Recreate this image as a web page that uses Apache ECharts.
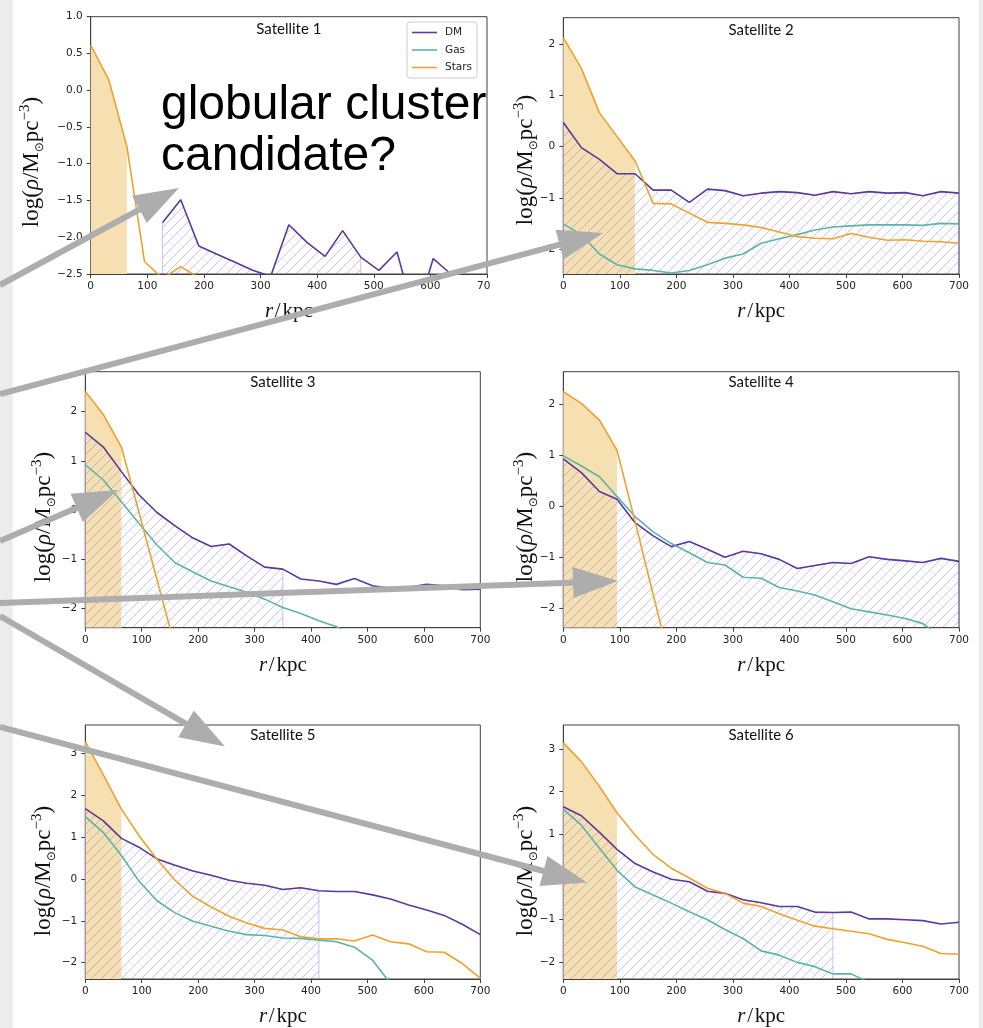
<!DOCTYPE html>
<html>
<head>
<meta charset="utf-8">
<script src="https://cdn.jsdelivr.net/npm/echarts@6/dist/echarts.min.js"></script>
<style>
  html, body { margin: 0; padding: 0; background: #ffffff; }
  #chart { width: 983px; height: 1028px; }
</style>
</head>
<body>
<div id="chart"></div>
<script>
// Radial bin centres (kpc)
const radius = [0, 32, 64, 95, 127, 159, 191, 223, 255, 286, 318, 350, 382, 414, 445, 477, 509, 541, 573, 605, 636, 668, 700];

// log density profiles, log(rho / Msun pc^-3); null = empty bin
const sat1DM    = [null, null, null, null, -1.80, -1.49, -2.12, -2.23, -2.34, -2.45, -2.53, -1.83, -2.07, -2.26, -1.91, -2.27, -2.45, -2.20, -3.10, -2.29, -2.50, -2.80, null];
const sat1Gas   = [null, null, null, null, null, null, null, null, null, null, null, null, null, null, null, null, null, null, null, null, null, null, null];
const sat1Stars = [0.615, 0.14, -0.77, -2.33, -2.56, -2.40, -2.55, null, null, null, null, null, null, null, null, null, null, null, null, null, null, null, null];

const sat2DM    = [0.47, -0.02, -0.25, -0.53, -0.53, -0.85, -0.85, -1.09, -0.83, -0.86, -0.96, -0.91, -0.88, -0.90, -0.95, -0.88, -0.92, -0.88, -0.91, -0.90, -0.96, -0.88, -0.91];
const sat2Gas   = [-1.51, -1.72, -2.10, -2.31, -2.39, -2.42, -2.47, -2.42, -2.31, -2.18, -2.10, -1.89, -1.80, -1.72, -1.63, -1.57, -1.55, -1.53, -1.53, -1.53, -1.54, -1.50, -1.51];
const sat2Stars = [2.13, 1.53, 0.66, 0.20, -0.28, -1.11, -1.12, -1.30, -1.48, -1.50, -1.53, -1.58, -1.67, -1.76, -1.79, -1.80, -1.70, -1.77, -1.83, -1.82, -1.85, -1.86, -1.89];

const sat3DM    = [1.58, 1.28, 0.78, 0.31, -0.05, -0.32, -0.57, -0.74, -0.69, -0.93, -1.16, -1.20, -1.40, -1.44, -1.51, -1.39, -1.54, -1.59, -1.57, -1.51, -1.54, -1.62, -1.61];
const sat3Gas   = [0.92, 0.61, 0.17, -0.27, -0.71, -1.07, -1.26, -1.44, -1.56, -1.67, -1.81, -1.98, -2.10, -2.25, -2.37, -2.55, null, null, null, null, null, null, null];
const sat3Stars = [2.41, 1.94, 1.28, -0.04, -1.41, -2.78, null, null, null, null, null, null, null, null, null, null, null, null, null, null, null, null, null];

const sat4DM    = [0.93, 0.66, 0.29, 0.14, -0.32, -0.58, -0.79, -0.69, -0.84, -1.00, -0.88, -0.93, -1.04, -1.22, -1.16, -1.10, -1.12, -0.99, -1.04, -1.07, -1.10, -1.02, -1.08];
const sat4Gas   = [0.99, 0.79, 0.58, 0.19, -0.20, -0.50, -0.73, -0.91, -1.10, -1.15, -1.39, -1.41, -1.59, -1.66, -1.74, -1.87, -2.01, -2.07, -2.13, -2.20, -2.30, -2.55, null];
const sat4Stars = [2.25, 2.02, 1.69, 1.10, -0.30, -1.73, -3.14, null, null, null, null, null, null, null, null, null, null, null, null, null, null, null, null];

const sat5DM    = [1.68, 1.39, 0.97, 0.76, 0.48, 0.33, 0.19, 0.09, -0.03, -0.10, -0.15, -0.25, -0.21, -0.28, -0.30, -0.30, -0.38, -0.48, -0.62, -0.74, -0.87, -1.08, -1.33];
const sat5Gas   = [1.49, 1.11, 0.56, -0.05, -0.52, -0.81, -1.01, -1.13, -1.25, -1.33, -1.35, -1.41, -1.42, -1.46, -1.50, -1.63, -1.94, -2.50, null, null, null, null, null];
const sat5Stars = [3.28, 2.49, 1.67, 1.04, 0.47, -0.03, -0.42, -0.67, -0.89, -1.05, -1.18, -1.22, -1.38, -1.43, -1.43, -1.48, -1.34, -1.50, -1.55, -1.74, -1.75, -2.02, -2.37];

const sat6DM    = [1.64, 1.43, 1.04, 0.64, 0.31, 0.11, -0.06, -0.12, -0.34, -0.39, -0.54, -0.61, -0.70, -0.70, -0.83, -0.84, -0.83, -0.99, -0.99, -1.01, -1.03, -1.11, -1.07];
const sat6Gas   = [1.58, 1.21, 0.67, 0.15, -0.24, -0.43, -0.62, -0.82, -1.01, -1.24, -1.45, -1.74, -1.84, -2.01, -2.11, -2.28, -2.28, -2.48, null, null, null, null, null];
const sat6Stars = [3.14, 2.70, 2.12, 1.50, 0.98, 0.52, 0.20, -0.03, -0.27, -0.39, -0.62, -0.70, -0.87, -1.02, -1.16, -1.22, -1.28, -1.34, -1.47, -1.55, -1.63, -1.80, -1.82];

const satelliteNames = ['Satellite 1', 'Satellite 2', 'Satellite 3', 'Satellite 4', 'Satellite 5', 'Satellite 6'];
// stellar core radius (shaded) and DM-dominated range (hatched), kpc
const starCoreRadius = [64, 127, 64, 95, 64, 95];
const dmHaloStart = [127, 0, 0, 0, 0, 0];
const dmHaloEnd   = [477, 700, 350, 700, 414, 477];

// axis limits and tick labels
const xTicks = [0, 100, 200, 300, 400, 500, 600, 700];
const yTicksSat1 = [-2.5, -2.0, -1.5, -1.0, -0.5, 0.0, 0.5, 1.0];
const yTicksMid = [-2, -1, 0, 1, 2];
const yTicksDeep = [-2, -1, 0, 1, 2, 3];
const yMin = [-2.5, -2.49, -2.39, -2.38, -2.39, -2.40];
const yMax = [1.0, 2.52, 2.81, 2.64, 3.68, 3.56];

const profiles = [
  [sat1DM, sat1Gas, sat1Stars],
  [sat2DM, sat2Gas, sat2Stars],
  [sat3DM, sat3Gas, sat3Stars],
  [sat4DM, sat4Gas, sat4Stars],
  [sat5DM, sat5Gas, sat5Stars],
  [sat6DM, sat6Gas, sat6Stars]
];
const yTickSets = [yTicksSat1, yTicksMid, yTicksMid, yTicksMid, yTicksDeep, yTicksDeep];
const yDecimals = [1, 0, 0, 0, 0, 0];

// ---- layout ----
const boxes = [
  { left: 90.7,  top: 16.7,  width: 396.3, height: 257.3 },
  { left: 563.3, top: 17.7,  width: 395.7, height: 256.3 },
  { left: 85.3,  top: 371.7, width: 395.0, height: 256.0 },
  { left: 563.3, top: 371.7, width: 395.7, height: 256.0 },
  { left: 85.3,  top: 725.0, width: 395.0, height: 256.7 },
  { left: 563.3, top: 725.0, width: 395.7, height: 256.7 }
];
const titleCentreY = [29, 29.3, 381.7, 381.7, 735, 735];
const yLabelPos = [[31.5, 162], [526, 160], [44, 517], [526, 517], [44, 871], [526, 871]];

const COLORS = { dm: '#5b3a9e', gas: '#5ab4aa', stars: '#f0a12a', core: '#f6dfb1', hatch: 'rgba(120,100,225,0.40)' };
const AXIS_COLOR = '#404040';
const TICK_FONT = 'DejaVu Sans';
const SERIF = 'Liberation Serif';

function hatchTile() {
  const size = 10;
  const c = document.createElement('canvas');
  c.width = size; c.height = size;
  const g = c.getContext('2d');
  g.strokeStyle = COLORS.hatch;
  g.lineWidth = 1;
  g.beginPath();
  g.moveTo(-1, size + 1); g.lineTo(size + 1, -1);
  g.moveTo(-size / 2 - 1, size / 2 + 1); g.lineTo(size / 2 + 1, -size / 2 - 1);
  g.moveTo(size / 2 - 1, size * 1.5 + 1); g.lineTo(size * 1.5 + 1, size / 2 - 1);
  g.stroke();
  return c;
}
const hatchPattern = { image: hatchTile(), repeat: 'repeat' };

function pairs(vals, from, to) {
  const out = [];
  radius.forEach((r, i) => {
    if (vals[i] !== null && r >= from && r <= to) out.push([r, vals[i]]);
  });
  return out;
}

function fmtTick(v, d) {
  const s = Math.abs(v).toFixed(d);
  return (v < 0 ? '\u2212' : '') + s;
}

const grids = [], xAxes = [], yAxes = [], series = [], titles = [], graphics = [];

boxes.forEach((b, k) => {
  const [dm, gas, stars] = profiles[k];
  grids.push({ left: b.left, top: b.top, width: b.width, height: b.height, show: true,
    borderColor: AXIS_COLOR, borderWidth: 1, backgroundColor: 'transparent', containLabel: false });

  xAxes.push({
    type: 'value', gridIndex: k, min: 0, max: 700, interval: 100,
    axisLine: { show: true, onZero: false, lineStyle: { color: AXIS_COLOR, width: 1 } },
    axisTick: { show: true, length: 4, lineStyle: { color: AXIS_COLOR } },
    axisLabel: { fontFamily: TICK_FONT, fontSize: 10.5, color: '#222', margin: 7, showMaxLabel: true, showMinLabel: true },
    splitLine: { show: false },
    name: '{i|r}{n|\u200a/\u200akpc}', nameLocation: 'middle', nameGap: 27,
    nameTextStyle: { rich: {
      i: { fontFamily: SERIF, fontStyle: 'italic', fontSize: 21, color: '#111' },
      n: { fontFamily: SERIF, fontSize: 21, color: '#111' }
    } }
  });

  const ticks = yTickSets[k];
  const dec = yDecimals[k];
  yAxes.push({
    type: 'value', gridIndex: k, min: yMin[k], max: yMax[k],
    axisLine: { show: true, onZero: false, lineStyle: { color: AXIS_COLOR, width: 1 } },
    axisTick: { show: true, length: 4, lineStyle: { color: AXIS_COLOR }, customValues: ticks },
    axisLabel: { fontFamily: TICK_FONT, fontSize: 10.5, color: '#222', margin: 8, customValues: ticks,
      formatter: v => fmtTick(v, dec) },
    splitLine: { show: false }
  });

  const floor = yMin[k];
  // shaded stellar core
  const core = pairs(stars, 0, starCoreRadius[k]);
  core.push([starCoreRadius[k], floor]);
  series.push({
    name: 'core', type: 'line', xAxisIndex: k, yAxisIndex: k, data: core,
    symbol: 'none', silent: true, lineStyle: { width: 0, opacity: 0 },
    areaStyle: { color: COLORS.core, opacity: 1, origin: 'start' }, z: 1
  });
  // hatched DM-dominated region
  const halo = [[dmHaloStart[k], floor]].concat(pairs(dm, dmHaloStart[k], dmHaloEnd[k]));
  halo.push([dmHaloEnd[k], floor]);
  series.push({
    name: 'halo', type: 'line', xAxisIndex: k, yAxisIndex: k, data: halo,
    symbol: 'none', silent: true, lineStyle: { width: 1, color: COLORS.hatch },
    areaStyle: { color: hatchPattern, opacity: 1, origin: 'start' }, z: 2
  });
  // profiles
  [['DM', dm, COLORS.dm], ['Gas', gas, COLORS.gas], ['Stars', stars, COLORS.stars]].forEach(([nm, vals, col]) => {
    series.push({
      name: nm, type: 'line', xAxisIndex: k, yAxisIndex: k, data: pairs(vals, 0, 700),
      symbol: 'none', showSymbol: false, lineStyle: { width: 1.6, color: col }, itemStyle: { color: col }, z: 3
    });
  });

  titles.push({
    text: satelliteNames[k], left: b.left + b.width / 2, top: titleCentreY[k] - 7, textAlign: 'center', padding: 0,
    textStyle: { fontFamily: 'Lato', fontSize: 15, fontWeight: 'normal', color: '#111' }
  });

  graphics.push({
    type: 'text', x: yLabelPos[k][0], y: yLabelPos[k][1], rotation: Math.PI / 2, z: 5,
    style: {
      text: '{t|log(}{g|\u03c1}{t|/M}{s|\u2299}{t|pc}{p|\u22123}{t|)}',
      align: 'center', verticalAlign: 'middle', fill: '#111',
      rich: {
        t: { fontFamily: SERIF, fontSize: 23, lineHeight: 28, fill: '#111' },
        g: { fontFamily: SERIF, fontStyle: 'italic', fontSize: 23, lineHeight: 28, fill: '#111' },
        s: { fontFamily: 'DejaVu Sans', fontSize: 12, lineHeight: 16, verticalAlign: 'bottom', fill: '#111' },
        p: { fontFamily: SERIF, fontSize: 15, lineHeight: 15, verticalAlign: 'top', fill: '#111' }
      }
    }
  });
});

// page side strips
graphics.push({ type: 'rect', shape: { x: 0, y: 0, width: 12.7, height: 1028 }, style: { fill: '#ececec' }, z: -10, silent: true });
graphics.push({ type: 'rect', shape: { x: 979, y: 0, width: 4, height: 1028 }, style: { fill: '#ececec' }, z: -10, silent: true });
// panel 1 is cropped at its right side
graphics.push({ type: 'rect', shape: { x: 490.5, y: 277, width: 12, height: 18 }, style: { fill: '#ffffff' }, z: 20, silent: true });

// annotation
graphics.push({
  type: 'text', x: 161, y: 80.5, z: 30,
  style: { text: 'globular cluster\ncandidate?', fontFamily: 'Liberation Sans', fontSize: 48, lineHeight: 51,
    fill: '#000', align: 'left', verticalAlign: 'top' }
});

// arrows pointing at the satellites
const arrows = [
  { from: [0, 285], to: [179, 188] },
  { from: [0, 394], to: [603, 233] },
  { from: [0, 541], to: [118, 490] },
  { from: [0, 603], to: [618, 581] },
  { from: [0, 616], to: [225, 746.5] },
  { from: [0, 727], to: [587, 882.5] }
];
const HEAD_LEN = 45, HEAD_HALF = 15.5, ARROW_COLOR = '#adadad';
arrows.forEach(a => {
  const dx = a.to[0] - a.from[0], dy = a.to[1] - a.from[1];
  const L = Math.hypot(dx, dy), ux = dx / L, uy = dy / L;
  const bx = a.to[0] - ux * HEAD_LEN, by = a.to[1] - uy * HEAD_LEN;
  graphics.push({ type: 'line', z: 50, silent: true,
    shape: { x1: a.from[0], y1: a.from[1], x2: bx + ux * 4, y2: by + uy * 4 },
    style: { stroke: ARROW_COLOR, lineWidth: 6 } });
  graphics.push({ type: 'polygon', z: 50, silent: true,
    shape: { points: [[a.to[0], a.to[1]], [bx - uy * HEAD_HALF, by + ux * HEAD_HALF], [bx + uy * HEAD_HALF, by - ux * HEAD_HALF]] },
    style: { fill: ARROW_COLOR } });
});

const chart = echarts.init(document.getElementById('chart'), null, { renderer: 'canvas' });
chart.setOption({
  animation: false,
  backgroundColor: '#ffffff',
  title: titles,
  legend: {
    data: ['DM', 'Gas', 'Stars'], orient: 'vertical', left: 407, top: 22,
    icon: 'rect', itemWidth: 25, itemHeight: 1.6, itemGap: 4.5, padding: [4, 5, 4, 5],
    borderColor: '#cccccc', borderWidth: 1, borderRadius: 3, backgroundColor: 'rgba(255,255,255,0.85)',
    textStyle: { fontFamily: TICK_FONT, fontSize: 10.5, color: '#222', padding: [0, 0, 0, 3], lineHeight: 13 },
    selectedMode: false
  },
  grid: grids,
  xAxis: xAxes,
  yAxis: yAxes,
  series: series,
  graphic: graphics
});
</script>
</body>
</html>
